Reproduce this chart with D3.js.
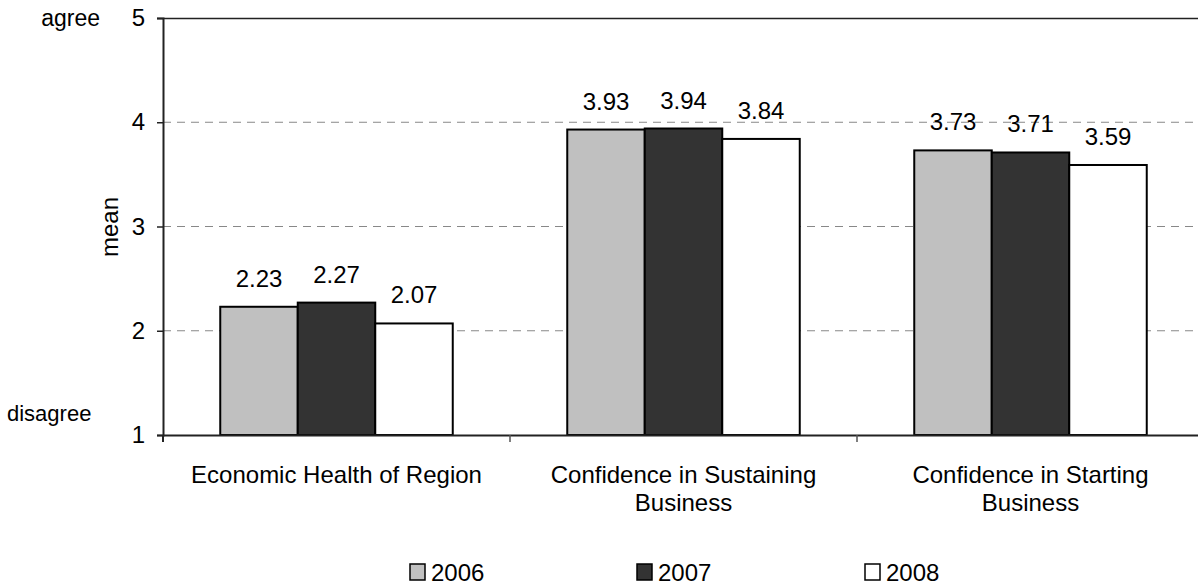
<!DOCTYPE html>
<html><head><meta charset="utf-8">
<script src="https://cdn.jsdelivr.net/npm/d3@7"></script>
<style>body{margin:0;background:#fff}svg{display:block;font-family:"Liberation Sans",Arial,sans-serif}</style>
</head><body>
<svg id="c" width="1198" height="586"></svg>
<script>
const categories = [["Economic Health of Region"],["Confidence in Sustaining","Business"],["Confidence in Starting","Business"]];
const years = ["2006","2007","2008"];
const v2006 = [2.23, 3.93, 3.73];
const v2007 = [2.27, 3.94, 3.71];
const v2008 = [2.07, 3.84, 3.59];
const colors = ["#C0C0C0","#333333","#FFFFFF"];
const yTicks = [1,2,3,4,5];

const series = [v2006, v2007, v2008];
const svg = d3.select("#c");
const L = 163, R = 1204, T = 18, B = 435;
const catIdx = categories.map((d,i)=>i);
const x0 = d3.scaleBand().domain(catIdx).range([L,R]).paddingInner(0).paddingOuter(0);
const groupW = 232.5;
const x1 = d3.scaleBand().domain(years).range([0,groupW]);
const y = d3.scaleLinear().domain([1,5]).range([B,T]);

// gridlines
svg.append("g").selectAll("line").data([2,3,4]).join("line")
  .attr("x1",L).attr("x2",R).attr("y1",d=>y(d)).attr("y2",d=>y(d))
  .attr("stroke","#888").attr("stroke-width",1).attr("stroke-dasharray","8,6");
// top border
svg.append("line").attr("x1",L).attr("x2",R).attr("y1",T+0.5).attr("y2",T+0.5).attr("stroke","#222").attr("stroke-width",1.5);

// bars
const g = svg.append("g");
categories.forEach((c,ci)=>{
  const gx = x0(ci) + (x0.bandwidth()-groupW)/2;
  years.forEach((yr,si)=>{
    const v = series[si][ci];
    g.append("rect").attr("x",gx+x1(yr)).attr("y",y(v)).attr("width",x1.bandwidth()).attr("height",y(1)-y(v))
      .attr("fill",colors[si]).attr("stroke","#000").attr("stroke-width",2);
    g.append("text").attr("x",gx+x1(yr)+x1.bandwidth()/2).attr("y",y(v)-20).attr("text-anchor","middle")
      .attr("font-size",24).attr("fill","#000").text(v.toFixed(2));
  });
});

// y axis
const ya = d3.axisLeft(y).tickValues(yTicks).tickSize(6).tickFormat(d3.format("d")).tickPadding(12);
const yg = svg.append("g").attr("transform",`translate(${L},0)`).call(ya);
yg.select(".domain").attr("stroke","#222").attr("stroke-width",2);
yg.selectAll(".tick line").attr("stroke","#222").attr("stroke-width",1.5);
yg.selectAll("text").attr("font-size",24).attr("fill","#000").attr("font-family","Liberation Sans, Arial, sans-serif");

// x axis
const xa = d3.axisBottom(x0).tickValues([]).tickSize(0);
const xg = svg.append("g").attr("transform",`translate(0,${B})`).call(xa);
xg.select(".domain").attr("stroke","#222").attr("stroke-width",2);
// category boundary ticks
svg.append("g").selectAll("line").data(catIdx).join("line")
  .attr("x1",d=>x0(d)+x0.bandwidth()).attr("x2",d=>x0(d)+x0.bandwidth())
  .attr("y1",B).attr("y2",B+7).attr("stroke","#555").attr("stroke-width",1.5);
svg.append("line").attr("x1",L).attr("x2",L).attr("y1",B).attr("y2",B+7).attr("stroke","#222").attr("stroke-width",2);

// category labels
categories.forEach((c,ci)=>{
  const t = svg.append("text").attr("x",x0(ci)+x0.bandwidth()/2).attr("y",483).attr("text-anchor","middle").attr("font-size",24).attr("fill","#000");
  c.forEach((line,li)=>t.append("tspan").attr("x",x0(ci)+x0.bandwidth()/2).attr("dy",li?28:0).text(line));
});

// side labels
svg.append("text").attr("x",100).attr("y",26).attr("text-anchor","end").attr("font-size",23).text("agree");
svg.append("text").attr("x",7).attr("y",421).attr("font-size",22).text("disagree");
svg.append("text").attr("transform","translate(118,227) rotate(-90)").attr("text-anchor","middle").attr("font-size",24).text("mean");

// legend
const legX = [410,637,865];
years.forEach((yr,i)=>{
  svg.append("rect").attr("x",legX[i]).attr("y",564).attr("width",15).attr("height",16).attr("fill",colors[i]).attr("stroke","#000").attr("stroke-width",1.5);
  svg.append("text").attr("x",legX[i]+21).attr("y",581).attr("font-size",24).text(yr);
});
</script>
</body></html>
